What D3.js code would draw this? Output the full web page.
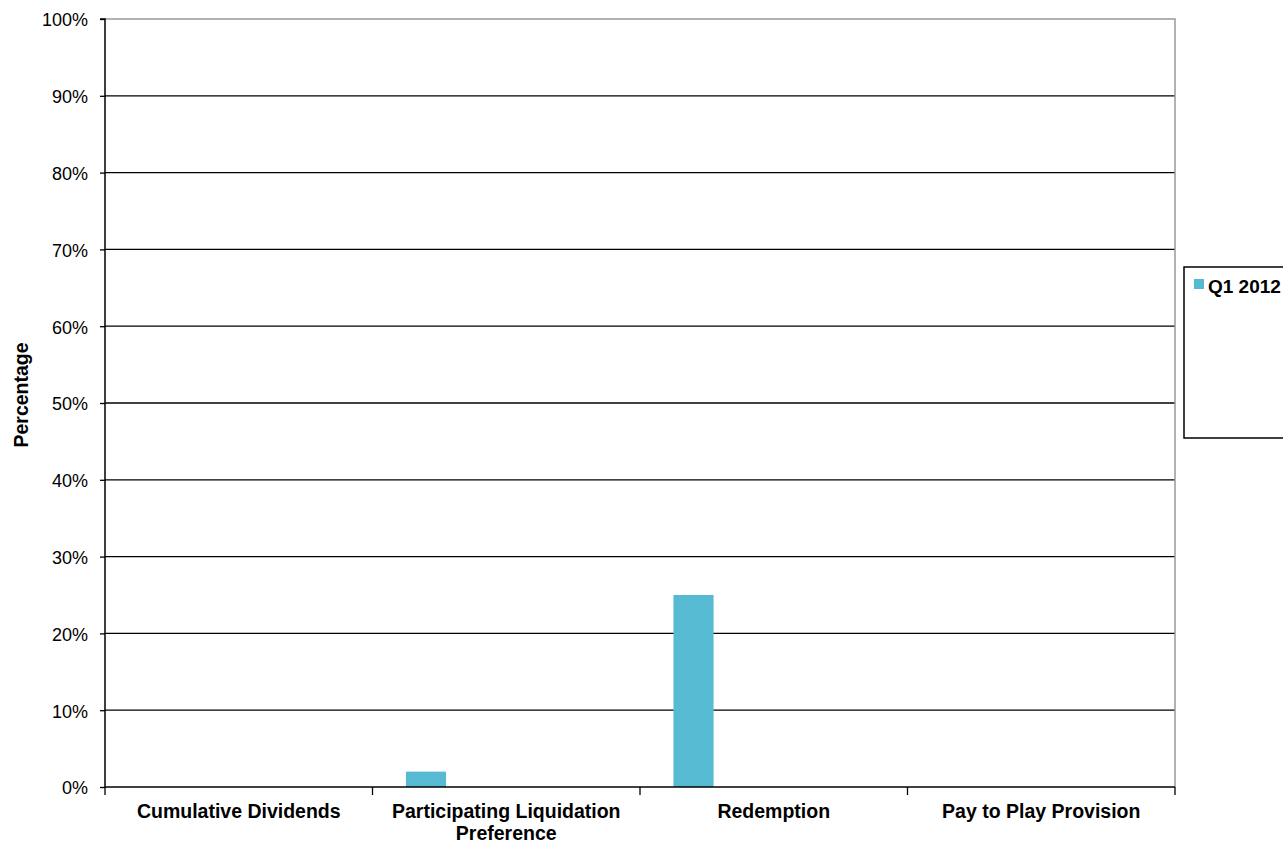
<!DOCTYPE html>
<html>
<head>
<meta charset="utf-8">
<script src="https://cdn.jsdelivr.net/npm/d3@7"></script>
<style>
  html, body { margin: 0; padding: 0; background: #fff; }
  svg { display: block; font-family: "Liberation Sans", Arial, sans-serif; }
</style>
</head>
<body>
<svg id="chart" width="1283" height="844"></svg>
<script>
// Share of deals carrying each term
const categories = [
  ["Cumulative Dividends"],
  ["Participating Liquidation", "Preference"],
  ["Redemption"],
  ["Pay to Play Provision"]
];
const seriesName = "Q1 2012";
const seriesValues = [0, 2, 25, 0];
const yTicks = [0, 10, 20, 30, 40, 50, 60, 70, 80, 90, 100];

const svg = d3.select("#chart");
const margin = { left: 105, right: 1175, top: 19, bottom: 787 };
const barColor = "#56bad3";

const catKeys = categories.map(c => c.join(" "));
const x = d3.scaleBand().domain(catKeys).range([margin.left, margin.right]).paddingInner(0).paddingOuter(0);
const y = d3.scaleLinear().domain([0, 100]).range([margin.bottom, margin.top]);

// Gridlines
svg.append("g")
  .selectAll("line")
  .data(yTicks.filter(t => t > 0 && t < 100))
  .join("line")
  .attr("x1", margin.left).attr("x2", margin.right)
  .attr("y1", d => y(d)).attr("y2", d => y(d))
  .attr("stroke", "#000").attr("stroke-width", 1.3);

// Top and right frame
svg.append("path")
  .attr("d", `M${margin.left},${y(100)}H${margin.right}V${margin.bottom}`)
  .attr("fill", "none").attr("stroke", "#999").attr("stroke-width", 1.5);

// Bars: series slot sits at the left of a five-slot group
const slot = x.bandwidth() * 0.15;
const groupOffset = (x.bandwidth() - slot * 5) / 2;
svg.append("g")
  .selectAll("rect")
  .data(seriesValues.map((v, i) => ({ key: catKeys[i], v })))
  .join("rect")
  .attr("x", d => x(d.key) + groupOffset)
  .attr("width", slot)
  .attr("y", d => y(d.v))
  .attr("height", d => y(0) - y(d.v))
  .attr("fill", barColor);

// Y axis
const yAxis = d3.axisLeft(y).tickValues(yTicks).tickSize(5).tickFormat(d => d + "%");
const gy = svg.append("g").attr("transform", `translate(${margin.left},0)`).call(yAxis);
gy.select(".domain").attr("stroke", "#000").attr("stroke-width", 1.5).attr("d", `M-5,${y(100)}H0V${y(0)}`);
gy.selectAll(".tick line").attr("stroke", "#000").attr("stroke-width", 1.3);
gy.selectAll(".tick text").attr("x", -17).attr("dy", "0.38em").attr("font-size", 18).attr("fill", "#000")
  .attr("font-family", "'Liberation Sans', Arial, sans-serif");

// X axis
const gx = svg.append("g").attr("transform", `translate(0,${margin.bottom})`);
gx.append("line").attr("x1", margin.left).attr("x2", margin.right)
  .attr("stroke", "#000").attr("stroke-width", 1.5);
const bounds = catKeys.map(k => x(k)).concat([margin.right]);
gx.selectAll("line.tk").data(bounds).join("line").attr("class", "tk")
  .attr("x1", d => d).attr("x2", d => d).attr("y1", 0).attr("y2", 8)
  .attr("stroke", "#000").attr("stroke-width", 1.3);
const labels = gx.selectAll("text").data(categories).join("text")
  .attr("x", (d, i) => x(catKeys[i]) + x.bandwidth() / 2)
  .attr("y", 31)
  .attr("text-anchor", "middle")
  .attr("font-size", 19.5).attr("font-weight", "bold").attr("fill", "#000");
labels.selectAll("tspan").data(d => d).join("tspan")
  .attr("x", function () { return d3.select(this.parentNode).attr("x"); })
  .attr("dy", (d, i) => i === 0 ? 0 : 22)
  .text(d => d);

// Y axis title
svg.append("text")
  .attr("transform", `translate(28,395) rotate(-90)`)
  .attr("text-anchor", "middle")
  .attr("font-size", 19.5).attr("font-weight", "bold")
  .text("Percentage");

// Legend
const lg = svg.append("g");
lg.append("rect").attr("x", 1184).attr("y", 267).attr("width", 130).attr("height", 171)
  .attr("fill", "#fff").attr("stroke", "#000").attr("stroke-width", 1.5);
lg.append("rect").attr("x", 1194).attr("y", 279).attr("width", 10).attr("height", 10).attr("fill", barColor);
lg.append("text").attr("x", 1208).attr("y", 293)
  .attr("font-size", 19).attr("font-weight", "bold").text(seriesName);
</script>
</body>
</html>
